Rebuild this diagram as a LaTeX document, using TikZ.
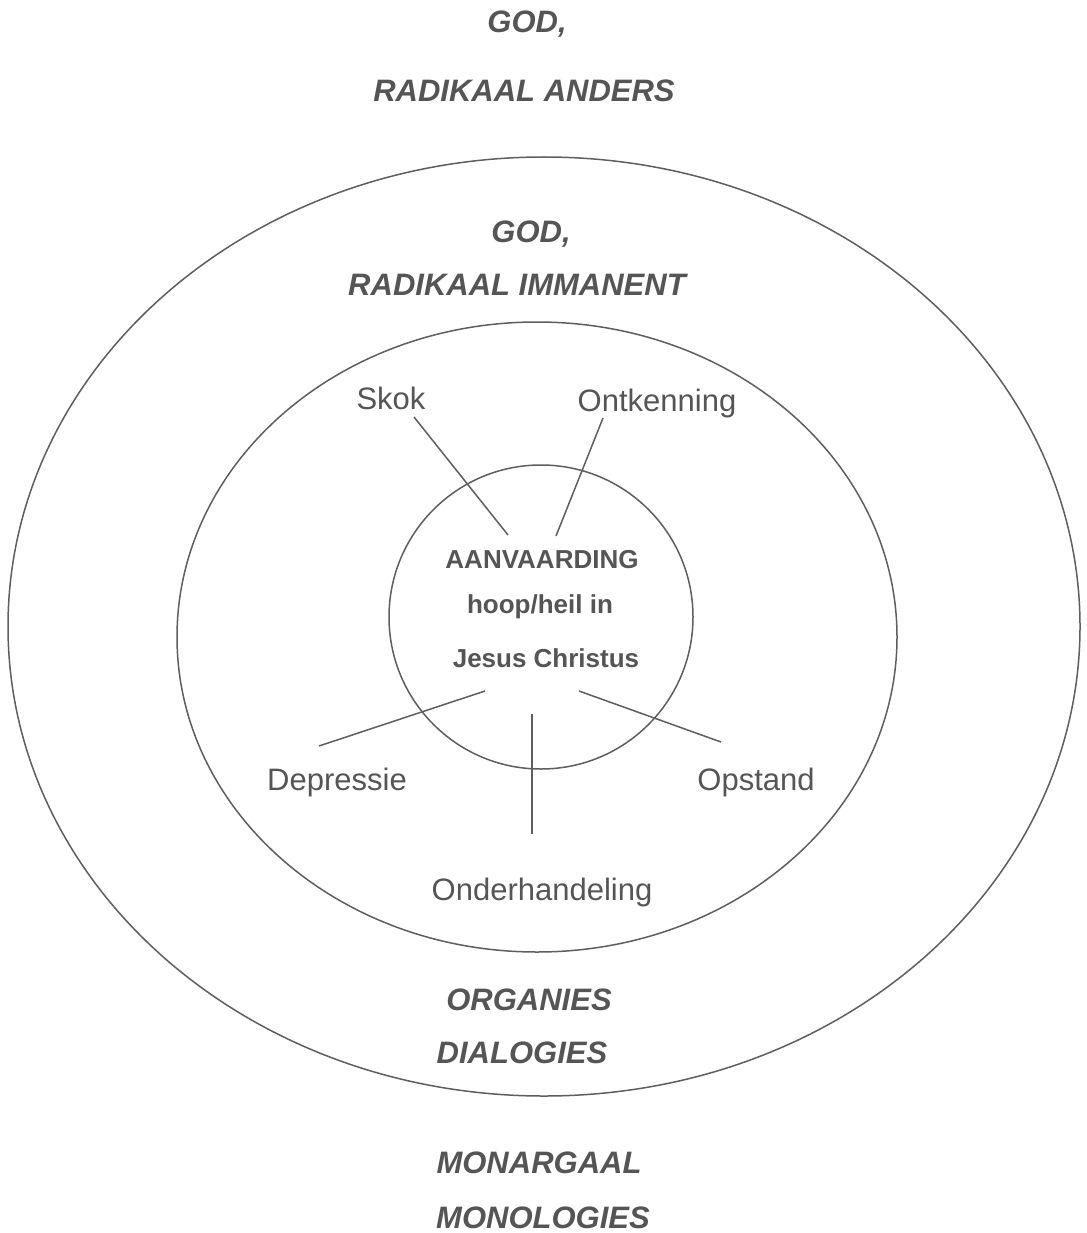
\documentclass[tikz,border=0pt]{standalone}
\usepackage{fontspec}
\setmainfont{Liberation Sans}
\definecolor{txtgray}{HTML}{555555}
\definecolor{linegray}{HTML}{5E5E5E}
\begin{document}
\begin{tikzpicture}[x=1pt,y=-1pt,
  heading/.style={anchor=base,inner sep=0pt,text=txtgray,font=\fontsize{31}{36}\selectfont\bfseries\itshape},
  stage/.style={anchor=base,inner sep=0pt,text=txtgray,font=\fontsize{31}{36}\selectfont},
  core/.style={anchor=base,inner sep=0pt,text=txtgray,font=\fontsize{26}{30}\selectfont\bfseries},
  ring/.style={draw=linegray,line width=1.5pt},
  spoke/.style={draw=linegray,line width=1.5pt}]
\useasboundingbox (0,0) rectangle (1086,1233);
\fill[white] (0,0) rectangle (1086,1233);

% rings
\draw[ring] (544,626.5) ellipse [x radius=536, y radius=469.5];
\draw[ring] (537,637) ellipse [x radius=360, y radius=315];
\draw[ring] (541,617) circle [radius=152];

% headings
\node[heading] (god1) at (527,33) {GOD,};
\node[heading] (anders) at (524,102) {RADIKAAL ANDERS};
\node[heading] (god2) at (531,243) {GOD,};
\node[heading] (immanent) at (517,295) {RADIKAAL IMMANENT};
\node[heading] (organies) at (529,1010) {ORGANIES};
\node[heading] (dialogies) at (522,1063) {DIALOGIES};
\node[heading] (monargaal) at (539,1173) {MONARGAAL};
\node[heading] (monologies) at (543,1228) {MONOLOGIES};

% core
\node[core] (aanv) at (542,568) {AANVAARDING};
\node[core] (hoop) at (540,613) {hoop/heil in};
\node[core] (jesus) at (546,667) {Jesus Christus};

% stages
\node[stage] (skok) at (391,409) {Skok};
\node[stage] (ontk) at (657,411) {Ontkenning};
\node[stage] (depr) at (337,790) {Depressie};
\node[stage] (opst) at (756,790) {Opstand};
\node[stage] (onder) at (542,900) {Onderhandeling};

% spoke end points
\coordinate (skokA) at (414,417);
\coordinate (skokB) at (508,535);
\coordinate (ontkA) at (603,418);
\coordinate (ontkB) at (556,536);
\coordinate (deprA) at (319,746);
\coordinate (deprB) at (485,691);
\coordinate (opstA) at (721,742);
\coordinate (opstB) at (579,691);
\coordinate (onderA) at (532,834);
\coordinate (onderB) at (532,714);

\draw[spoke] (skokA) -- (skokB);
\draw[spoke] (ontkA) -- (ontkB);
\draw[spoke] (deprA) -- (deprB);
\draw[spoke] (opstA) -- (opstB);
\draw[spoke] (onderA) -- (onderB);
\end{tikzpicture}
\end{document}
